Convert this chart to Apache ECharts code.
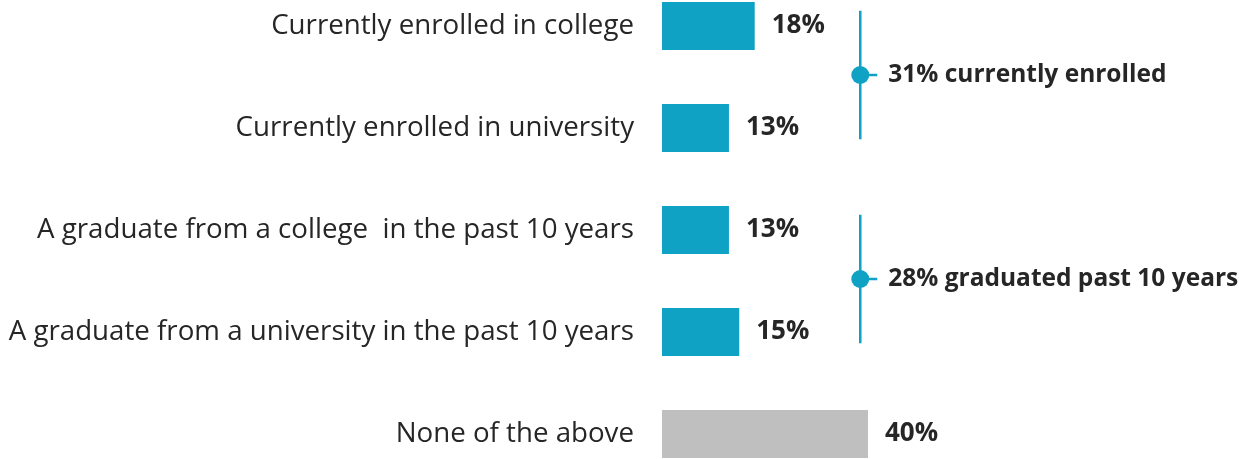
<!DOCTYPE html>
<html><head><meta charset="utf-8">
<script src="https://cdn.jsdelivr.net/npm/echarts@6/dist/echarts.min.js"></script>
<style>html,body{margin:0;padding:0;background:#fff}#c{width:1239px;height:459px}</style>
</head><body><div id="c"></div>
<script>
const categories = [
  "Currently enrolled in college",
  "Currently enrolled in university",
  "A graduate from a college  in the past 10 years",
  "A graduate from a university in the past 10 years",
  "None of the above"
];
const values = [18, 13, 13, 15, 40];
const barColors = ["#10A2C5", "#10A2C5", "#10A2C5", "#10A2C5", "#BFBFBF"];
// brackets: x position (value), first category index, last category index, label
const bracketX = [38.5, 38.5];
const bracketStart = [0, 2];
const bracketEnd = [1, 3];
const bracketLabels = ["31% currently enrolled", "28% graduated past 10 years"];

const FONT = "'Open Sans', sans-serif";
const chart = echarts.init(document.getElementById('c'), null, {renderer: 'canvas'});
chart.setOption({
  animation: false,
  grid: {left: 662, right: 62, top: -25, bottom: -26, containLabel: false, outerBoundsMode: 'none'},
  xAxis: {type: 'value', min: 0, max: 100, show: false},
  yAxis: {
    type: 'category', data: categories, inverse: true,
    axisLine: {show: false}, axisTick: {show: false}, splitLine: {show: false},
    axisLabel: {margin: 28, fontFamily: FONT, fontSize: 27.7, color: '#262626'}
  },
  series: [
    {
      type: 'bar', barWidth: 48,
      data: values.map((v, i) => ({value: v, itemStyle: {color: barColors[i]}})),
      label: {show: true, position: 'right', distance: 17, formatter: '{c}%',
        fontFamily: FONT, fontSize: 26, fontWeight: 'bold', color: '#262626'}
    },
    {
      type: 'custom',
      data: bracketX.map((x, i) => [x, bracketStart[i], bracketEnd[i], i]),
      renderItem: function (params, api) {
        const x = api.value(0);
        const p0 = api.coord([x, api.value(1)]);
        const p1 = api.coord([x, api.value(2)]);
        const band = api.size([0, 1])[1];
        const ext = band * 0.13;
        const top = Math.min(p0[1], p1[1]) - ext - 2;
        const bot = Math.max(p0[1], p1[1]) + ext - 2;
        const mid = (top + bot) / 2;
        const cx = p0[0];
        const color = '#10A2C5';
        return {
          type: 'group',
          children: [
            {type: 'line', shape: {x1: cx, y1: top, x2: cx, y2: bot}, style: {stroke: color, lineWidth: 2.5}},
            {type: 'line', shape: {x1: cx, y1: mid, x2: cx + 17, y2: mid}, style: {stroke: color, lineWidth: 2.5}},
            {type: 'circle', shape: {cx: cx, cy: mid, r: 9}, style: {fill: color}},
            {type: 'text', x: cx + 28, y: mid, style: {text: bracketLabels[api.value(3)], fill: '#262626',
              font: "bold 24.5px 'Open Sans', sans-serif", verticalAlign: 'middle', align: 'left'}}
          ]
        };
      }
    }
  ]
});
</script></body></html>
